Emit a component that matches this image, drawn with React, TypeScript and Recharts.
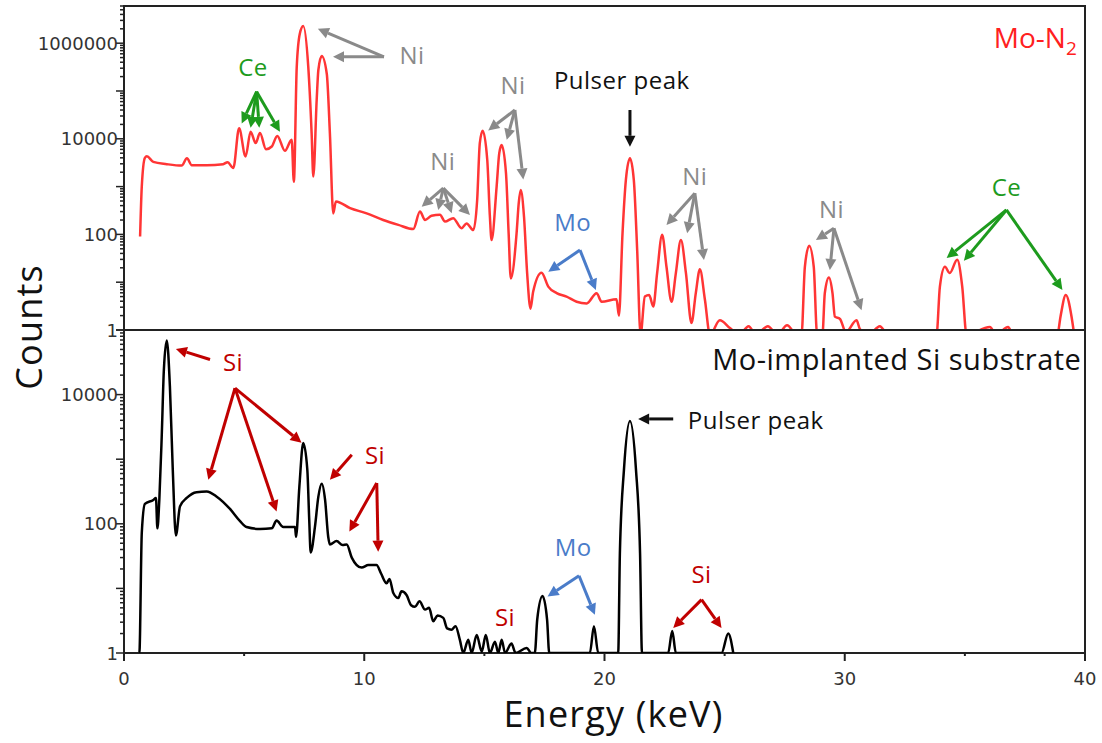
import React from "react";
import { LineChart, Line, XAxis, YAxis, ReferenceArea, ReferenceLine, ReferenceDot } from "recharts";

// Mo-N2 spectrum (top panel)
const topEnergy = [
  0.67, 0.74, 0.87, 0.95, 1.22, 1.78, 2.4, 2.62, 2.82, 3.44, 4.13, 4.31, 4.55, 4.79, 5.06, 5.27, 5.48,
  5.66, 5.91, 6.15, 6.38, 6.7, 6.98, 7.07, 7.19, 7.32, 7.46, 7.67, 7.81, 7.88, 8.02, 8.09, 8.23, 8.44,
  8.57, 8.71, 8.82, 9.41, 10.1, 10.79, 11.42, 12.04, 12.32, 12.53, 12.8, 13.15, 13.36, 13.7, 14.05,
  14.26, 14.54, 14.7, 14.81, 14.93, 15.12, 15.23, 15.3, 15.51, 15.62, 15.72, 15.9, 16.01, 16.1, 16.34,
  16.43, 16.51, 16.65, 16.78, 16.92, 17.03, 17.38, 17.66, 18.01, 18.42, 18.84, 19.26, 19.67, 19.88,
  20.5, 20.6, 20.75, 20.89, 21.06, 21.22, 21.36, 21.5, 21.68, 21.86, 22.03, 22.19, 22.4, 22.58, 22.79,
  22.97, 23.18, 23.39, 23.62, 23.8, 23.97, 24.18, 24.39, 24.8, 25.22, 25.6, 26.0, 26.3, 26.8, 27.2,
  27.6, 28.0, 28.2, 28.34, 28.52, 28.71, 28.85, 29.07, 29.17, 29.34, 29.49, 29.59, 29.8, 30.05, 30.49,
  30.63, 31.0, 31.46, 31.8, 33.82, 33.96, 34.17, 34.37, 34.68, 34.89, 35.07, 36.04, 36.3, 36.8, 37.0,
  38.85, 38.98, 39.2, 39.44, 39.55,
];
const topCounts = [
  90, 1000, 4000, 4300, 3300, 2950, 2750, 3900, 2800, 2800, 2950, 3250, 2450, 16600, 4270, 14100, 8130,
  13200, 6030, 6900, 11500, 5620, 9550, 1260, 320000, 1600000, 2300000, 320000, 13000, 1620, 65000,
  275000, 540000, 230000, 13000, 275, 490, 355, 275, 200, 158, 129, 300, 200, 245, 257, 186, 219, 135,
  170, 123, 525, 8100, 14800, 3600, 234, 76, 1000, 5000, 7400, 1900, 105, 12, 105, 450, 850, 234, 15.5,
  2.8, 6.3, 15.8, 8.1, 5.9, 5.0, 3.9, 3.6, 5.9, 3.9, 4.4, 2.0, 105, 1380, 3900, 1380, 47, 0.8, 5.0, 5.4,
  3.1, 15.5, 98, 21, 3.9, 15.5, 76, 15.5, 1.4, 5.9, 18.6, 4.3, 0.8, 1.6, 1.1, 0.8, 1.2, 0.8, 1.2, 0.8,
  1.25, 0.8, 0.8, 21, 58, 21, 0.8, 0.8, 5.9, 12.6, 5.9, 1.9, 1.7, 0.9, 1.6, 1.05, 0.8, 1.2, 0.8, 0.8,
  8.1, 21, 15.5, 29.5, 8.1, 0.8, 1.15, 0.8, 1.15, 0.8, 0.8, 1.9, 5.4, 1.9, 0.8,
];

// Mo-implanted Si substrate (bottom panel)
const bottomEnergy = [
  0.62, 0.64, 0.74, 0.87, 1.22, 1.33, 1.39, 1.47, 1.57, 1.66, 1.78, 1.91, 2.03, 2.16, 2.33, 2.61, 3.02,
  3.44, 3.86, 4.41, 4.83, 5.1, 5.66, 6.15, 6.35, 6.63, 7.12, 7.16, 7.3, 7.46, 7.63, 7.71, 7.77, 7.95,
  8.09, 8.23, 8.37, 8.5, 8.57, 8.85, 9.1, 9.27, 9.48, 9.89, 10.17, 10.51, 10.7, 10.93, 11.05, 11.21,
  11.42, 11.55, 11.76, 11.95, 12.11, 12.3, 12.53, 12.7, 12.87, 13.05, 13.29, 13.45, 13.63, 13.8, 13.98,
  14.12, 14.33, 14.47, 14.68, 14.89, 15.06, 15.23, 15.44, 15.58, 15.72, 15.86, 16.13, 16.3, 16.76,
  16.95, 17.1, 17.2, 17.42, 17.61, 17.7, 19.39, 19.56, 19.74, 20.57, 20.64, 20.81, 21.06, 21.31, 21.48,
  21.56, 22.65, 22.82, 22.97, 24.87, 25.15, 25.36,
];
const bottomCounts = [
  1, 1, 72, 204, 234, 251, 85, 234, 2240, 24500, 69000, 13500, 690, 66, 186, 251, 309, 316, 263, 170,
  110, 89, 83, 85, 112, 89, 89, 63, 380, 1780, 690, 115, 36, 91, 263, 417, 234, 63, 48, 54, 47, 48, 30,
  21, 23, 23, 17, 12, 14, 8.5, 7.1, 9.0, 7.9, 5.5, 5.2, 6.3, 4.7, 5.0, 3.1, 3.8, 3.5, 2.4, 2.3, 2.6,
  1.6, 1, 1.6, 1, 1.9, 1.05, 1.9, 1, 1.5, 1, 1.6, 1, 1.4, 1, 1.2, 1, 1, 3.3, 7.6, 3.3, 1, 1, 2.6, 1, 1,
  35, 690, 3900, 690, 35, 1, 1, 2.2, 1, 1, 2.0, 1,
];

const energyTicks = [0, 5, 10, 15, 20, 25, 30, 35, 40];
const energyLabels = [0, 10, 20, 30, 40];
const topCountLabels = [1, 100, 10000, 1000000];
const bottomCountLabels = [1, 100, 10000];

const topData = topEnergy.map((e, i) => ({ e, c: topCounts[i] }));
const bottomData = bottomEnergy.map((e, i) => ({ e, c: bottomCounts[i] }));

const TOP_MAX = 6000000;
const BOTTOM_MAX = 100000;

// log axis ticks: every 1..9 x 10^k up to the axis top
const logTicks = (top: number) => {
  const out: number[] = [];
  for (let k = 0; 10 ** k <= top; k++) {
    for (let m = 1; m <= 9; m++) {
      const v = m * 10 ** k;
      if (v <= top) out.push(v);
    }
  }
  return out;
};

const GREEN = "#1d9b1d";
const GRAY = "#8a8a8a";
const BLUE = "#4a7cc9";
const DARKRED = "#c00000";
const TEXT_FONT = "'Open Sans', sans-serif";
const TICK_FONT = "'DejaVu Sans', sans-serif";

const makeYTick = (labels: number[]) => (props: any) => {
  const { x, y, payload } = props;
  const v = payload.value;
  const decade = Math.abs(Math.log10(v) - Math.round(Math.log10(v))) < 1e-9;
  const len = decade ? 8 : 4;
  return (
    <g>
      <line x1={x} x2={x - len} y1={y} y2={y} stroke="#222" strokeWidth={1.5} />
      {labels.includes(v) && (
        <text x={x - 6} y={y} dy={6.5} textAnchor="end" fontSize={18} fontFamily={TICK_FONT} fill="#333">
          {v}
        </text>
      )}
    </g>
  );
};

const XTick = (props: any) => {
  const { x, y, payload } = props;
  const major = energyLabels.includes(payload.value);
  return (
    <g>
      <line x1={x} x2={x} y1={y} y2={y + (major ? 8 : 3)} stroke="#222" strokeWidth={2} />
      {major && (
        <text x={x} y={y + 32} textAnchor="middle" fontSize={18} fontFamily={TICK_FONT} fill="#333">
          {payload.value}
        </text>
      )}
    </g>
  );
};

const arrowShape = (color: string) => (p: any) => {
  const { x1, y1, x2, y2 } = p;
  const dx = x2 - x1;
  const dy = y2 - y1;
  const len = Math.hypot(dx, dy) || 1;
  const ux = dx / len;
  const uy = dy / len;
  const hl = 11;
  const hw = 5.5;
  const bx = x2 - ux * hl;
  const by = y2 - uy * hl;
  const pts = `${x2},${y2} ${bx - uy * hw},${by + ux * hw} ${bx + uy * hw},${by - ux * hw}`;
  return (
    <g>
      <line x1={x1} y1={y1} x2={bx} y2={by} stroke={color} strokeWidth={3} />
      <polygon points={pts} fill={color} />
    </g>
  );
};

type Note = { x: number; y: number; text: string; color: string; anchor?: string };
type Fan = { from: [number, number]; to: [number, number][]; color: string };

const topNotes: Note[] = [
  { x: 5.37, y: 3.2e5, text: "Ce", color: GREEN },
  { x: 11.99, y: 5.7e5, text: "Ni", color: GRAY },
  { x: 16.19, y: 1.34e5, text: "Ni", color: GRAY },
  { x: 13.27, y: 3.6e3, text: "Ni", color: GRAY },
  { x: 20.72, y: 1.7e5, text: "Pulser peak", color: "#111" },
  { x: 18.68, y: 182, text: "Mo", color: BLUE },
  { x: 23.76, y: 1.7e3, text: "Ni", color: GRAY },
  { x: 29.45, y: 352, text: "Ni", color: GRAY },
  { x: 36.73, y: 1000, text: "Ce", color: GREEN },
];
const topFans: Fan[] = [
  { from: [5.52, 9.7e4], to: [[4.9, 2.1e4], [5.27, 1.7e4], [5.63, 1.7e4], [6.49, 1.4e4]], color: GREEN },
  { from: [10.82, 5.2e5], to: [[8.07, 2.0e6], [8.7, 5.2e5]], color: GRAY },
  { from: [16.27, 4.0e4], to: [[15.16, 1.5e4], [15.93, 9.5e3], [16.62, 1.4e3]], color: GRAY },
  { from: [13.29, 930], to: [[12.39, 380], [13.08, 325], [13.64, 277], [14.4, 255]], color: GRAY },
  { from: [21.06, 4.0e4], to: [[21.06, 6.8e3]], color: "#111" },
  { from: [18.98, 47], to: [[17.66, 16.6], [19.64, 6.9]], color: BLUE },
  { from: [23.76, 724], to: [[22.58, 158], [23.44, 106], [24.14, 29]], color: GRAY },
  { from: [29.55, 134], to: [[28.8, 76], [29.38, 18], [30.7, 2.6]], color: GRAY },
  { from: [36.73, 325], to: [[34.24, 32], [34.96, 28], [39.06, 6.9]], color: GREEN },
];

const bottomNotes: Note[] = [
  { x: 4.54, y: 3.3e4, text: "Si", color: DARKRED },
  { x: 10.45, y: 1170, text: "Si", color: DARKRED },
  { x: 18.7, y: 45, text: "Mo", color: BLUE },
  { x: 15.86, y: 3.7, text: "Si", color: DARKRED },
  { x: 24.04, y: 17.3, text: "Si", color: DARKRED },
  { x: 23.47, y: 4100, text: "Pulser peak", color: "#111", anchor: "start" },
];
const bottomFans: Fan[] = [
  { from: [3.58, 3.5e4], to: [[2.16, 5.1e4]], color: DARKRED },
  { from: [4.62, 1.26e4], to: [[3.51, 480], [6.35, 155], [7.39, 1800]], color: DARKRED },
  { from: [9.48, 1170], to: [[8.57, 480]], color: DARKRED },
  { from: [10.52, 427], to: [[9.38, 76], [10.58, 37]], color: DARKRED },
  { from: [22.86, 4200], to: [[21.4, 4200]], color: "#111" },
  { from: [18.94, 15.7], to: [[17.63, 7.5], [19.6, 3.9]], color: BLUE },
  { from: [24.04, 6.7], to: [[22.86, 2.44], [24.87, 2.44]], color: DARKRED },
];

const renderNotes = (notes: Note[], prefix: string) =>
  notes.map((n, i) => (
    <ReferenceDot
      key={`${prefix}n${i}`}
      x={n.x}
      y={n.y}
      r={0}
      shape={(p: any) => (
        <text
          x={p.cx}
          y={p.cy}
          textAnchor={n.anchor ?? "middle"}
          dominantBaseline="central"
          fontSize={24}
          letterSpacing={0.5}
          fontFamily={TEXT_FONT}
          fill={n.color}
        >
          {n.text}
        </text>
      )}
    />
  ));

const renderFans = (fans: Fan[], prefix: string) =>
  fans.flatMap((f, i) =>
    f.to.map((t, j) => (
      <ReferenceLine
        key={`${prefix}a${i}-${j}`}
        segment={[{ x: f.from[0], y: f.from[1] }, { x: t[0], y: t[1] }]}
        shape={arrowShape(f.color)}
      />
    ))
  );

export default function App() {
  return (
    <div style={{ position: "absolute", left: 0, top: 0, width: 1102, height: 743, background: "#fff" }}>
      <div style={{ position: "absolute", left: 0, top: 0 }}>
        <LineChart width={1102} height={345} data={topData} margin={{ top: 6, right: 17, bottom: 15, left: 0 }}>
          <XAxis dataKey="e" type="number" domain={[0, 40]} hide />
          <YAxis
            type="number"
            scale="log"
            domain={[1, TOP_MAX]}
            allowDataOverflow
            ticks={logTicks(TOP_MAX)}
            interval={0}
            width={124}
            tickSize={0}
            tickMargin={0}
            axisLine={false}
            tickLine={false}
            tick={makeYTick(topCountLabels)}
          />
          <ReferenceArea x1={0} x2={40} y1={1} y2={TOP_MAX} fill="none" stroke="#222" strokeWidth={2} />
          <Line
            type="monotone"
            dataKey="c"
            stroke="#ff3535"
            strokeWidth={2.5}
            dot={false}
            isAnimationActive={false}
          />
          {renderFans(topFans, "t")}
          {renderNotes(topNotes, "t")}
          <ReferenceDot
            x={39.66}
            y={8e5}
            r={0}
            shape={(p: any) => (
              <text x={p.cx} y={p.cy} textAnchor="end" fontSize={28} fontFamily={TEXT_FONT} fill="#ff2020">
                Mo-N<tspan dy={7} fontSize={19}>2</tspan>
              </text>
            )}
          />
        </LineChart>
      </div>
      <div style={{ position: "absolute", left: 0, top: 0 }}>
        <LineChart width={1102} height={743} data={bottomData} margin={{ top: 330, right: 17, bottom: 10, left: 0 }}>
          <XAxis
            dataKey="e"
            type="number"
            domain={[0, 40]}
            ticks={energyTicks}
            interval={0}
            height={80}
            tickSize={0}
            tickMargin={0}
            axisLine={false}
            tickLine={false}
            tick={XTick}
            label={{
              value: "Energy (keV)",
              position: "insideBottom",
              offset: 6,
              dx: 9,
              fontSize: 36,
              letterSpacing: 1.2,
              fontFamily: TEXT_FONT,
              fill: "#111",
            }}
          />
          <YAxis
            type="number"
            scale="log"
            domain={[1, BOTTOM_MAX]}
            allowDataOverflow
            ticks={logTicks(BOTTOM_MAX)}
            interval={0}
            width={124}
            tickSize={0}
            tickMargin={0}
            axisLine={false}
            tickLine={false}
            tick={makeYTick(bottomCountLabels)}
          />
          <ReferenceArea x1={0} x2={40} y1={1} y2={BOTTOM_MAX} fill="none" stroke="#222" strokeWidth={2} />
          <Line
            type="monotone"
            dataKey="c"
            stroke="#000"
            strokeWidth={2.5}
            dot={false}
            isAnimationActive={false}
          />
          {renderFans(bottomFans, "b")}
          {renderNotes(bottomNotes, "b")}
          <ReferenceDot
            x={39.85}
            y={2.4e4}
            r={0}
            shape={(p: any) => (
              <text
                x={p.cx}
                y={p.cy}
                textAnchor="end"
                fontSize={29}
                letterSpacing={0.5}
                fontFamily={TEXT_FONT}
                fill="#111"
              >
                Mo-implanted Si substrate
              </text>
            )}
          />
        </LineChart>
      </div>
      <div
        style={{
          position: "absolute",
          left: 28,
          top: 327,
          transform: "translate(-50%, -50%) rotate(-90deg)",
          fontFamily: TEXT_FONT,
          fontSize: 36,
          letterSpacing: 1.2,
          color: "#111",
          whiteSpace: "nowrap",
        }}
      >
        Counts
      </div>
    </div>
  );
}
